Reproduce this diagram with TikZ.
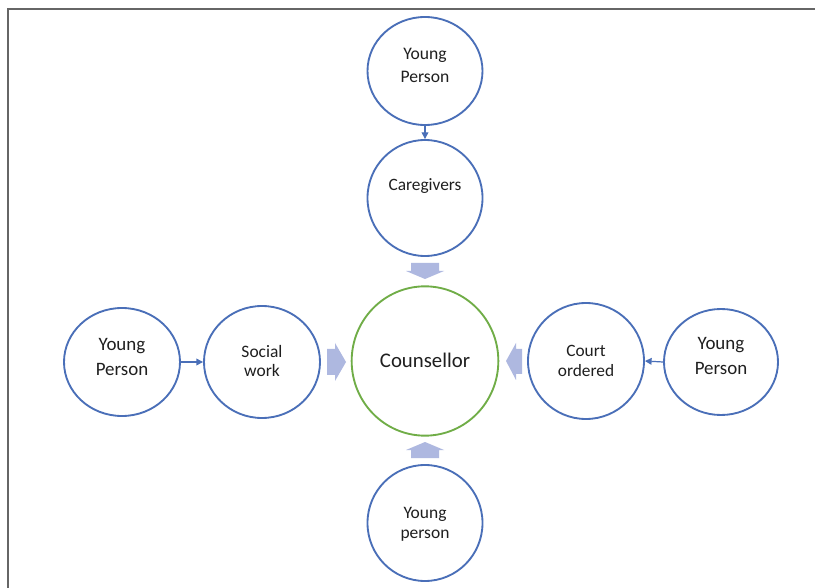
\documentclass[tikz,border=0pt]{standalone}
\usepackage{fontspec}
\setmainfont{Carlito}
\usetikzlibrary{shapes.geometric,arrows.meta}
\definecolor{ringblue}{HTML}{4A6FB8}
\definecolor{ringgreen}{HTML}{70AD47}
\definecolor{flow}{HTML}{AEB8E0}
\definecolor{frame}{HTML}{666666}
\begin{document}
\begin{tikzpicture}[x=0.75pt,y=-0.75pt,
  ring/.style={ellipse,draw=ringblue,line width=1.4pt,inner sep=0pt},
  lbl/.style={align=center,inner sep=0pt,text=black!88},
  link/.style={draw=ringblue,line width=0.9pt,-{Triangle[length=5pt,width=5pt]}},
  flowarrow/.style={fill=flow,draw=none}]
\useasboundingbox (0,0) rectangle (815,588);
\fill[white] (0,0) rectangle (815,588);
% page edge lines
\draw[frame,line width=1.3pt] (8,588) -- (8,9) -- (815,9);

% circles
\node[ring,minimum width=86.25pt,minimum height=81pt] (ypT) at (425,71) {};
\node[ring,minimum width=86.25pt,minimum height=87pt] (care) at (425,198) {};
\node[ring,draw=ringgreen,minimum width=110pt,minimum height=112pt] (couns) at (425,361) {};
\node[ring,minimum width=87pt,minimum height=84pt] (social) at (262,362) {};
\node[ring,minimum width=87pt,minimum height=81pt] (ypL) at (122,362) {};
\node[ring,minimum width=87pt,minimum height=87pt] (court) at (586,361) {};
\node[ring,minimum width=85.5pt,minimum height=79.5pt] (ypR) at (721,362) {};
\node[ring,minimum width=86.25pt,minimum height=87pt] (ypB) at (425,523) {};

% texts
\node[lbl,font=\fontsize{13.2pt}{17.3pt}\selectfont] (tT) at (425,65) {Young\\Person};
\node[lbl,font=\fontsize{13pt}{16pt}\selectfont] (tC) at (425,186) {Caregivers};
\node[lbl,font=\fontsize{15.6pt}{19pt}\selectfont] (tM) at (425,360) {Counsellor};
\node[lbl,font=\fontsize{13.1pt}{14.5pt}\selectfont] (tS) at (262,361) {Social\\work};
\node[lbl,font=\fontsize{14.2pt}{18.5pt}\selectfont] (tL) at (122,357) {Young\\Person};
\node[lbl,font=\fontsize{13pt}{14.5pt}\selectfont] (tO) at (586,361) {Court\\ordered};
\node[lbl,font=\fontsize{14.2pt}{18.5pt}\selectfont] (tR) at (721,356) {Young\\Person};
\node[lbl,font=\fontsize{13.1pt}{15pt}\selectfont] (tB) at (425,524) {Young\\person};

% small connectors
\draw[link] (ypT.south) -- (care.north);
\draw[link] (ypL.east) -- (social.west);
\draw[link] (ypR.west) -- (court.east);

% block arrows towards the counsellor
\fill[flowarrow] (411,263) -- (439,263) -- (439,271) -- (444,271) -- (425,279) -- (406,271) -- (411,271) -- cycle;
\fill[flowarrow] (411,458) -- (439,458) -- (439,450) -- (444,450) -- (425,442) -- (406,450) -- (411,450) -- cycle;
\fill[flowarrow] (327,349) -- (335,349) -- (335,343) -- (346,362) -- (335,381) -- (335,375) -- (327,375) -- cycle;
\fill[flowarrow] (522,349) -- (516,349) -- (516,343) -- (506,361) -- (516,380) -- (516,374) -- (522,374) -- cycle;
\end{tikzpicture}
\end{document}
